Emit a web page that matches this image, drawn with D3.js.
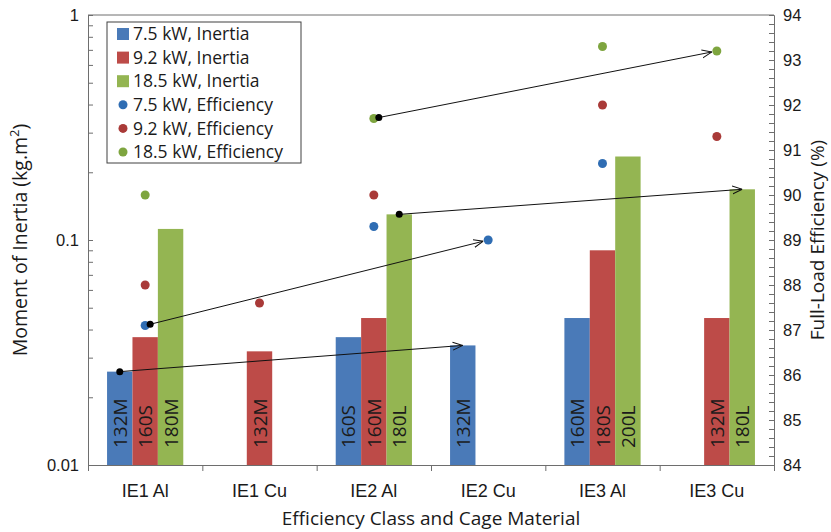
<!DOCTYPE html>
<html>
<head>
<meta charset="utf-8">
<script src="https://cdn.jsdelivr.net/npm/d3@7"></script>
<style>
  body { margin: 0; background: #fff; }
  svg { font-family: "Open Sans", sans-serif; }
  .axis text { fill: #1a1a1a; font-size: 16.5px; }
  .axis path, .axis line { stroke: #6e6e6e; }
</style>
</head>
<body>
<svg id="chart"></svg>
<script>
// categories and series
const categories = ['IE1 Al', 'IE1 Cu', 'IE2 Al', 'IE2 Cu', 'IE3 Al', 'IE3 Cu'];
const seriesNames = ['7.5 kW', '9.2 kW', '18.5 kW'];

// moment of inertia (kg.m2), null = no motor
const inertia75 = [0.026, null, 0.037, 0.034, 0.045, null];
const inertia92 = [0.037, 0.032, 0.045, null, 0.090, 0.045];
const inertia185 = [0.112, null, 0.130, null, 0.235, 0.168];

// frame size labels written in the bars
const frame75 = ['132M', null, '160S', '132M', '160M', null];
const frame92 = ['160S', '132M', '160M', null, '180S', '132M'];
const frame185 = ['180M', null, '180L', null, '200L', '180L'];

// full-load efficiency (%)
const eff75 = [87.1, null, 89.3, 89.0, 90.7, null];
const eff92 = [88.0, 87.6, 90.0, null, 92.0, 91.3];
const eff185 = [90.0, null, 91.7, null, 93.3, 93.2];

// arrows: series index, from / to category, which measure
const arrowLinks = [
    { s: 0, from: 'IE1 Al', to: 'IE2 Cu', kind: 'inertia' },
    { s: 0, from: 'IE1 Al', to: 'IE2 Cu', kind: 'eff' },
    { s: 2, from: 'IE2 Al', to: 'IE3 Cu', kind: 'inertia' },
    { s: 2, from: 'IE2 Al', to: 'IE3 Cu', kind: 'eff' }
];

const leftTicks = [0.01, 0.1, 1];
const rightTicks = d3.range(84, 94.01, 1);

const barColors = ['#4a7ab8', '#bd4b48', '#94b552'];
const dotColors = ['#2f6db3', '#a93a38', '#7ea53f'];

const inertia = [inertia75, inertia92, inertia185];
const frames = [frame75, frame92, frame185];
const effs = [eff75, eff92, eff185];

const width = 831, height = 532;
const margin = { top: 15, right: 57, bottom: 67, left: 88 };
const w = width - margin.left - margin.right;
const h = height - margin.top - margin.bottom;

const svg = d3.select('#chart').attr('width', width).attr('height', height);
const g = svg.append('g').attr('transform', `translate(${margin.left},${margin.top})`);

const x = d3.scaleBand().domain(categories).range([0, w]);
const xSub = d3.scaleBand().domain(d3.range(3)).range([0, x.bandwidth()]).paddingOuter(0.75);
const xEdge = d3.scaleLinear().domain([0, categories.length]).range([0, w]);
const y = d3.scaleLog().domain([0.01, 1]).range([h, 0]);
const yR = d3.scaleLinear().domain([84, 94]).range([h, 0]);

// left axis with minor ticks inside
const leftAll = [];
[0.01, 0.1].forEach(base => d3.range(1, 10).forEach(k => leftAll.push(+(base * k).toFixed(3))));
leftAll.push(1);
g.append('g').attr('class', 'axis')
    .call(d3.axisLeft(y).tickValues(leftAll).tickSize(-5).tickPadding(9)
        .tickFormat(d => leftTicks.includes(d) ? d3.format('')(d) : ''));

// right axis with minor ticks inside
g.append('g').attr('class', 'axis')
    .attr('transform', `translate(${w},0)`)
    .call(d3.axisRight(yR).tickValues(d3.range(84, 94.01, 0.2)).tickSize(-5).tickPadding(9)
        .tickFormat(d => rightTicks.some(t => Math.abs(t - d) < 1e-6) ? Math.round(d) : ''));

// bottom axis: boundary ticks + category labels
g.append('g').attr('class', 'axis')
    .attr('transform', `translate(0,${h})`)
    .call(d3.axisBottom(xEdge).ticks(6).tickSize(6).tickFormat(''));
g.append('g').attr('class', 'axis')
    .attr('transform', `translate(0,${h})`)
    .call(d3.axisBottom(x).tickSize(0).tickPadding(19))
    .call(a => a.select('.domain').remove())
    .call(a => a.selectAll('text').style('font-size', '18px'));

// top frame line
g.append('line').attr('x1', 0).attr('x2', w).attr('y1', 0).attr('y2', 0)
    .attr('stroke', '#6e6e6e');

// bars
const barData = [];
inertia.forEach((arr, s) => arr.forEach((v, i) => {
    if (v != null) barData.push({ s, cat: categories[i], v, label: frames[s][i] });
}));

const barX = d => x(d.cat) + xSub(d.s);

g.selectAll('.bar')
    .data(barData)
    .join('rect')
    .attr('class', 'bar')
    .attr('x', barX)
    .attr('width', xSub.bandwidth())
    .attr('y', d => y(d.v))
    .attr('height', d => h - y(d.v))
    .attr('fill', d => barColors[d.s]);

g.selectAll('.bar-label')
    .data(barData.filter(d => d.label))
    .join('text')
    .attr('class', 'bar-label')
    .attr('transform', d => `translate(${barX(d) + xSub.bandwidth() / 2 + 7},${h - 17}) rotate(-90)`)
    .attr('font-size', 19)
    .attr('fill', '#1a1a1a')
    .text(d => d.label);

// efficiency dots
const dotData = [];
effs.forEach((arr, s) => arr.forEach((v, i) => {
    if (v != null) dotData.push({ s, cat: categories[i], v });
}));
const cx = cat => x(cat) + x.bandwidth() / 2;

g.selectAll('.dot')
    .data(dotData)
    .join('circle')
    .attr('class', 'dot')
    .attr('cx', d => cx(d.cat))
    .attr('cy', d => yR(d.v))
    .attr('r', 4.5)
    .attr('fill', d => dotColors[d.s]);

// arrows
svg.append('defs').append('marker')
    .attr('id', 'arrow')
    .attr('viewBox', '0 0 10 10')
    .attr('refX', 10).attr('refY', 5)
    .attr('markerWidth', 10).attr('markerHeight', 10)
    .attr('markerUnits', 'userSpaceOnUse')
    .attr('orient', 'auto')
    .append('path')
    .attr('d', 'M0,1 L10,5 L0,9')
    .attr('fill', 'none')
    .attr('stroke', '#111')
    .attr('stroke-width', 1);

const point = (link, end) => {
    const cat = end ? link.to : link.from;
    const i = categories.indexOf(cat);
    if (link.kind === 'inertia') {
        return [x(cat) + xSub(link.s) + xSub.bandwidth() / 2, y(inertia[link.s][i])];
    }
    return [cx(cat), yR(effs[link.s][i])];
};

const arrowData = arrowLinks.map(l => {
    let p0 = point(l, false), p1 = point(l, true);
    if (l.kind === 'eff') {
        const dx = p1[0] - p0[0], dy = p1[1] - p0[1], len = Math.hypot(dx, dy);
        p0 = [p0[0] + 5, p0[1] + 5 * dy / len];
        p1 = [p1[0] - 5 * dx / len, p1[1] - 5 * dy / len];
    }
    return { p0, p1 };
});

g.selectAll('.arrow')
    .data(arrowData)
    .join('line')
    .attr('class', 'arrow')
    .attr('x1', d => d.p0[0]).attr('y1', d => d.p0[1])
    .attr('x2', d => d.p1[0]).attr('y2', d => d.p1[1])
    .attr('stroke', '#111')
    .attr('stroke-width', 1)
    .attr('marker-end', 'url(#arrow)');

g.selectAll('.arrow-start')
    .data(arrowData)
    .join('circle')
    .attr('class', 'arrow-start')
    .attr('cx', d => d.p0[0]).attr('cy', d => d.p0[1])
    .attr('r', 3.5)
    .attr('fill', '#000');

// legend
const legendItems = [
    ...seriesNames.map((n, i) => ({ name: `${n}, Inertia`, s: i, type: 'bar' })),
    ...seriesNames.map((n, i) => ({ name: `${n}, Efficiency`, s: i, type: 'dot' }))
];
const legend = svg.append('g').attr('transform', 'translate(107,22)');
legend.append('rect')
    .attr('width', 194).attr('height', 141)
    .attr('fill', '#fff').attr('stroke', '#404040');

const li = legend.selectAll('.legend-item')
    .data(legendItems)
    .join('g')
    .attr('class', 'legend-item')
    .attr('transform', (d, i) => `translate(0,${12 + i * 23.6})`);

li.filter(d => d.type === 'bar').append('rect')
    .attr('x', 10).attr('y', -6).attr('width', 12).attr('height', 12)
    .attr('fill', d => barColors[d.s]);
li.filter(d => d.type === 'dot').append('circle')
    .attr('cx', 16).attr('r', 4.5)
    .attr('fill', d => dotColors[d.s]);
li.append('text')
    .attr('x', 26).attr('dy', '0.35em')
    .attr('font-size', 17.5).attr('fill', '#1a1a1a')
    .text(d => d.name);

// axis titles
svg.append('text')
    .attr('transform', `translate(27,${margin.top + h / 2}) rotate(-90)`)
    .attr('text-anchor', 'middle').attr('font-size', 19.5).attr('fill', '#1a1a1a')
    .text('Moment of Inertia (kg.m')
    .append('tspan').attr('font-size', 13).attr('dy', -8).text('2')
    .clone().attr('font-size', 19.5).attr('dy', 8).text(')');

svg.append('text')
    .attr('transform', `translate(824,${margin.top + h / 2}) rotate(-90)`)
    .attr('text-anchor', 'middle').attr('font-size', 19).attr('fill', '#1a1a1a')
    .text('Full-Load Efficiency (%)');

svg.append('text')
    .attr('x', margin.left + w / 2).attr('y', 525)
    .attr('text-anchor', 'middle').attr('font-size', 19).attr('fill', '#1a1a1a')
    .text('Efficiency Class and Cage Material');
</script>
</body>
</html>
